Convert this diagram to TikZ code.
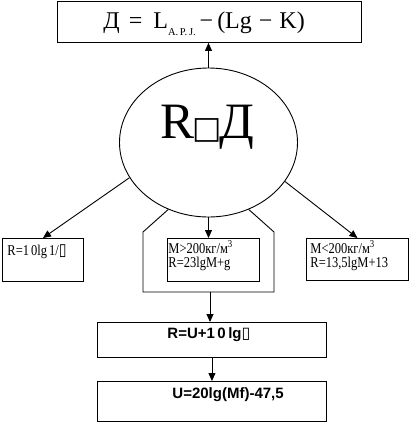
\documentclass[tikz,border=0pt]{standalone}
\usepackage{fontspec}
\setmainfont{Liberation Serif}
\newfontfamily\arialf{Liberation Sans}
\newfontfamily\dvs{DejaVu Sans}
\usetikzlibrary{arrows.meta,shapes.geometric}
\newcommand{\tall}[1]{\scalebox{1}[1.2]{#1}}
\begin{document}
\begin{tikzpicture}[x=1pt,y=-1pt,line width=0.9pt,
  box/.style={draw,rectangle,inner sep=0pt,anchor=north west},
  arr/.style={-{Triangle[width=7pt,length=8pt]}},
  txt/.style={anchor=base west,inner sep=0pt},
  small/.style={txt,font=\fontsize{12.5}{12.5}\selectfont},
  bold/.style={txt,font=\arialf\bfseries\fontsize{15}{15}\selectfont}]
\useasboundingbox (0,0) rectangle (410,424);
% boxes
\node[box,minimum width=304,minimum height=41] (top) at (57,1) {};
\node[draw,ellipse,minimum width=178,minimum height=149,inner sep=0pt] (el) at (208.5,142.5) {};
\node[box,minimum width=81,minimum height=43] (lb) at (2,238) {};
\node[box,minimum width=92,minimum height=43] (mb) at (167,238) {};
\node[box,minimum width=102,minimum height=42] (rb) at (306,238) {};
\node[box,minimum width=229,minimum height=35] (b1) at (97,322) {};
\node[box,minimum width=229,minimum height=40] (b2) at (97,381) {};
% texts
\node[txt,font=\fontsize{24}{24}\selectfont] (toptext) at (103,28.5)
  {Д\hspace{9pt}=\hspace{11pt}L\raisebox{-6.5pt}{\fontsize{10.5}{10.5}\selectfont A.\,P.\,J.}\hspace{4pt}−\hspace{4pt}(Lg\hspace{7pt}−\hspace{7pt}K)};
\node[anchor=base,inner sep=0pt,font=\fontsize{51}{51}\selectfont] (eltext) at (207.5,138)
  {R\hspace{-2pt}{\dvs\fontsize{31}{31}\selectfont □}\hspace{-2pt}Д};
\node[small] (lt) at (7,255) {\tall{R=1\,0lg\,1/{\dvs\fontsize{14}{14}\selectfont ▯}}};
\node[small] (mt1) at (168,253) {\tall{M>200кг/м\textsuperscript{3}}};
\node[small] (mt2) at (168,267) {\tall{R=23lgM+g}};
\node[small] (rt1) at (310,253) {\tall{M<200кг/м\textsuperscript{3}}};
\node[small] (rt2) at (310,267) {\tall{R=13,5lgM+13}};
\node[bold] (b1t) at (167,338) {R=U+1\,0\,lg{\dvs\mdseries\fontsize{16}{16}\selectfont ▯}};
\node[bold] (b2t) at (172,398) {U=20lg(Mf)-47,5};
% outer shape
\coordinate (o1) at (143,232);
\coordinate (o2) at (143,292);
\coordinate (o3) at (274,292);
\coordinate (o4) at (274,232);
\coordinate (ob) at (210,292);
\draw (el.239) -- (o1) -- (o2) -- (o3) -- (o4) -- (el.-59);
% arrows
\draw[arr] (el.north) -- (el.north |- top.south);
\draw[arr] (el.204) -- (lb.north);
\draw[arr] (el.-27) -- (rb.north);
\draw[arr] (el.south) -- (el.south |- mb.north);
\draw[arr] (ob) -- (ob |- b1.north);
\draw[arr] (b1.south) -- (b2.north);
\end{tikzpicture}
\end{document}
